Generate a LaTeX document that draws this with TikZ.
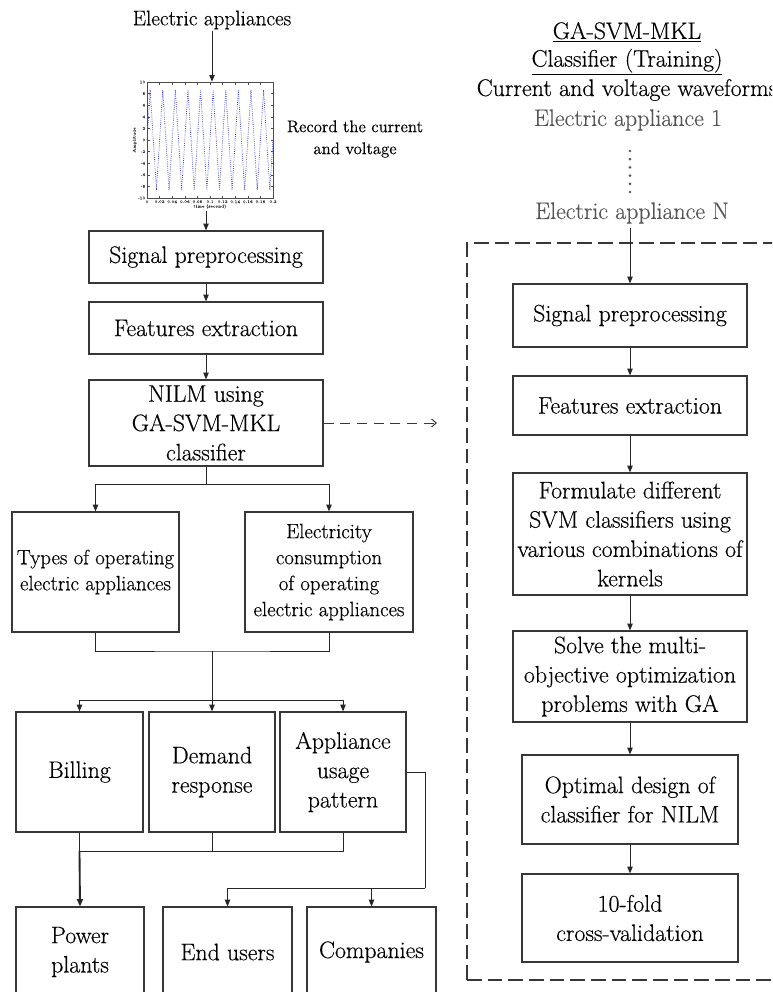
\documentclass[tikz,border=0pt]{standalone}
\usepackage{fontspec}
\setmainfont{Latin Modern Roman}[FakeBold=0.35]
\usetikzlibrary{arrows.meta}
\definecolor{lc}{RGB}{55,55,55}
\definecolor{wv}{RGB}{70,70,215}
\definecolor{lightt}{RGB}{85,85,85}
\newcommand\szmain{\fontsize{17.9}{22}\selectfont}
\newcommand\szsmall{\fontsize{15.6}{19.5}\selectfont}
\newcommand\sztop{\fontsize{15.9}{18}\selectfont}
\newcommand\szrec{\fontsize{12.6}{16.5}\selectfont}
\newcommand\sztiny{\fontsize{3}{3.5}\selectfont}
\begin{document}
\begin{tikzpicture}[x=0.75pt,y=-0.75pt,
  box/.style={draw=lc, line width=0.9pt, align=center, inner sep=1pt, font=\szmain},
  sbox/.style={box, font=\szsmall},
  conn/.style={draw=black!85, line width=0.75pt},
  arr/.style={conn, -{Triangle[length=5pt,width=4pt]}},
  dasharr/.style={draw=lc, line width=0.75pt, dash pattern=on 7.5pt off 5pt, -{Straight Barb[length=3.5pt,width=6pt]}},
  dbox/.style={draw=lc, line width=1.4pt, dash pattern=on 11pt off 4.5pt},
  lbl/.style={font=\szmain, inner sep=1pt},
  tk/.style={draw=black!70, line width=0.3pt},
  tl/.style={font=\sztiny, inner sep=0.4pt, text=black!80}]
\useasboundingbox (0,0) rectangle (772,992);
\clip (0,0) rectangle (772,992);
\fill[white] (0,0) rectangle (772,992);

% ---------- left column ----------
\node[font=\sztop, inner sep=1pt] (ea) at (212,20) {Electric appliances};

% waveform plot
\node[draw=black!70, line width=0.4pt, minimum width=94.5pt, minimum height=87pt, inner sep=0pt] (plot) at (210,140) {};
\foreach \v [count=\i] in {-10,-8,...,10} {
  \draw[tk] (147,{140-5.8*\v}) -- ++(2.5,0);
  \draw[tk] (273,{140-5.8*\v}) -- ++(-2.5,0);
  \node[tl, anchor=east] (yl\i) at (146,{140-5.8*\v}) {\v};
}
\foreach \t/\lab [count=\i] in {0/0,0.02/0.02,0.04/0.04,0.06/0.06,0.08/0.08,0.1/0.1,0.12/0.12,0.14/0.14,0.16/0.16,0.18/0.18,0.2/0.2} {
  \draw[tk] ({147+630*\t},198) -- ++(0,-2.5);
  \draw[tk] ({147+630*\t},82) -- ++(0,2.5);
  \node[tl, anchor=north] (xl\i) at ({147+630*\t},199.5) {\lab};
}
\node[tl] (xt) at (210,206.5) {time (second)};
\node[tl, rotate=90] (yt) at (134.5,140) {Amplitude};
\draw[wv, line width=0.6pt, densely dotted] (147,140)
  \foreach \k in {0,...,9} { -- ({150.15+12.6*\k},90) -- ({156.45+12.6*\k},190) } -- (273,140);

\node[font=\szrec, align=center, inner sep=1pt] (rec) at (355,139) {Record the current\\and voltage};

\draw[arr] (ea) -- (plot.north -| ea);
\coordinate (plotout) at (206,211);

\node[box, minimum width=175.5pt, minimum height=39pt] (sp1) at (206,257) {Signal preprocessing};
\node[box, minimum width=175.5pt, minimum height=39pt] (fe1) at (206,328) {Features extraction};
\node[box, minimum width=175.5pt, minimum height=64.5pt] (nilm) at (206,423) {NILM using\\GA-SVM-MKL\\classifier};
\draw[arr] (plotout) -- (sp1.north);
\draw[arr] (sp1) -- (fe1);
\draw[arr] (fe1) -- (nilm);
\coordinate (dashend) at (437,423);
\draw[dasharr] (nilm.east) -- (dashend);

\node[sbox, minimum width=125.25pt, minimum height=90pt] (types) at (95.5,572) {Types of operating\\electric appliances};
\node[sbox, minimum width=126pt, minimum height=90pt] (elec) at (329,572) {Electricity\\consumption\\of operating\\electric appliances};
\coordinate (j1) at (206,484);
\draw[conn] (nilm.south) -- (j1);
\draw[arr] (j1) -| (types.north);
\draw[arr] (j1) -| (elec.north);

\coordinate (j2) at (212,651);
\coordinate (j3) at (212,700);
\draw[conn] (types.south) |- (j2) -| (elec.south);
\draw[conn] (j2) -- (j3);

\node[box, minimum width=95.25pt, minimum height=90pt] (bill) at (79.5,772) {Billing};
\node[box, minimum width=94.5pt, minimum height=90pt] (dem) at (212,772) {Demand\\response};
\node[box, minimum width=94.5pt, minimum height=90pt] (appl) at (343,772) {Appliance\\usage\\pattern};
\draw[arr] (j3) -| (bill.north);
\draw[arr] (j3) -- (dem.north);
\draw[arr] (j3) -| (appl.north);

\coordinate (j4) at (79.5,851);
\draw[conn] (appl.south) |- (j4);
\draw[conn] (dem.south) -- (dem.south |- j4);
\draw[conn] (bill.south) -- (j4);

\node[box, minimum width=96pt, minimum height=67.5pt] (power) at (80,952) {Power\\plants};
\node[box, minimum width=96.75pt, minimum height=67.5pt] (endu) at (227.5,952) {End users};
\node[box, minimum width=96.75pt, minimum height=67.5pt] (comp) at (371.5,952) {Companies};
\draw[conn, line width=1.4pt, -{Triangle[length=5.5pt,width=4.5pt]}] (j4) -- (power.north);

\coordinate (j5) at (425,888);
\draw[conn] (appl.east) -| (j5);
\draw[arr] (j5) -| (endu.north);
\draw[arr] (comp.north |- j5) -- (comp.north);

% ---------- right column ----------
\node[lbl] (t1) at (627,32) {\underline{GA-SVM-MKL}};
\node[lbl] (t2) at (627,62) {\underline{Classifier (Training)}};
\node[lbl, font=\fontsize{18}{20}\selectfont] (t3) at (627,90) {Current and voltage waveforms};
\node[lbl, text=lightt] (t4) at (628,120) {Electric appliance 1};
\foreach \i in {0,...,5} \fill[lightt] (630,{151+8.2*\i}) circle (1.1pt);
\node[lbl, text=lightt] (t5) at (632,213) {Electric appliance N};

\draw[dbox] (467,980) -- (467,243) -- (800,243);
\draw[dbox] (467,980) -- (800,980);

\node[box, minimum width=175.5pt, minimum height=47.25pt] (sp2) at (630,315.5) {Signal preprocessing};
\node[box, minimum width=175.5pt, minimum height=44.25pt] (fe2) at (630,405.5) {Features extraction};
\node[box, minimum width=175.5pt, minimum height=91.5pt] (form) at (630,534) {Formulate different\\SVM classifiers using\\various combinations of\\kernels};
\node[box, minimum width=175.5pt, minimum height=68.25pt] (solve) at (630,676.5) {Solve the multi-\\objective optimization\\problems with GA};
\node[box, minimum width=162pt, minimum height=66.75pt] (opt) at (630,799.5) {Optimal design of\\classifier for NILM};
\node[box, minimum width=162pt, minimum height=66pt] (ten) at (630,918) {10-fold\\cross-validation};

\coordinate (rin) at (630,228);
\draw[arr] (rin) -- (sp2.north);
\draw[arr] (sp2) -- (fe2);
\draw[arr] (fe2) -- (form);
\draw[arr] (form) -- (solve);
\draw[arr] (solve) -- (opt);
\draw[arr] (opt) -- (ten);
\end{tikzpicture}
\end{document}
